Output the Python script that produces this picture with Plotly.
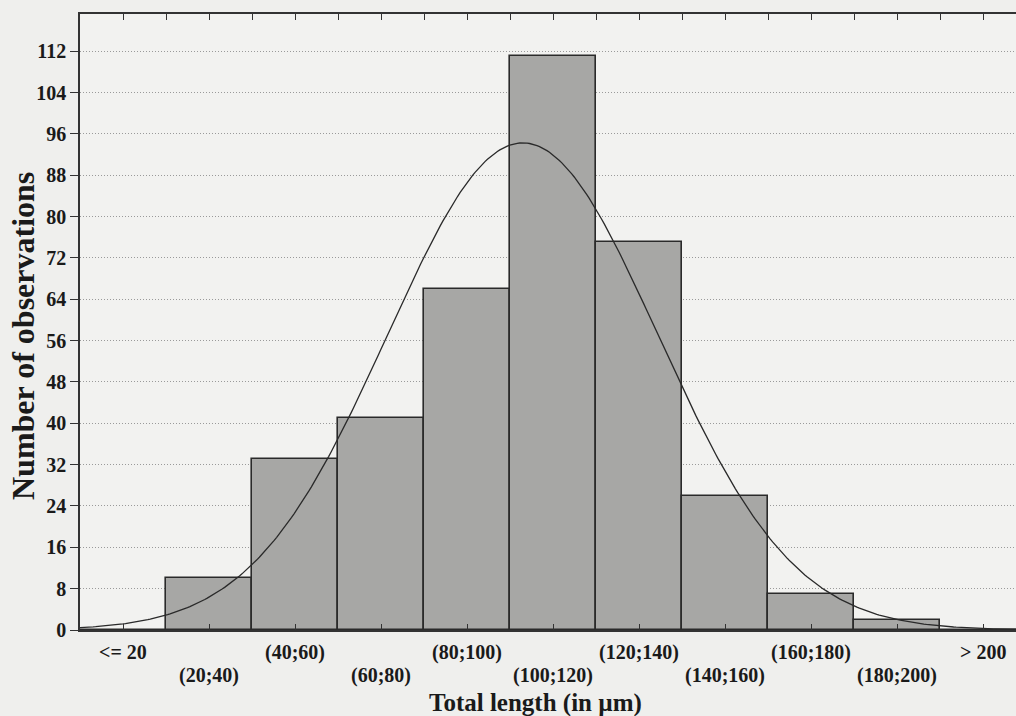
import numpy as np
import plotly.graph_objects as go

categories = ["<= 20", "(20;40)", "(40;60)", "(60;80)", "(80;100)", "(100;120)",
              "(120;140)", "(140;160)", "(160;180)", "(180;200)", "> 200"]
bin_mid = [10, 30, 50, 70, 90, 110, 130, 150, 170, 190, 210]
counts = [0, 10, 33, 41, 66, 111, 75, 26, 7, 2, 0]
y_ticks = list(range(0, 113, 8))

bin_w = 20.0
pos = list(range(len(categories)))

# normal fit from the grouped data
c = np.array(counts, float)
m = np.array(bin_mid, float)
n = c.sum()
mu = (c * m).sum() / n
sd = np.sqrt((c * (m - mu) ** 2).sum() / n)
L = np.linspace(-5, 225, 400)
curve_y = n * bin_w / (sd * np.sqrt(2 * np.pi)) * np.exp(-0.5 * ((L - mu) / sd) ** 2)
curve_x = (L - bin_mid[0]) / bin_w

FONT = "Liberation Serif"
fig = go.Figure()
fig.add_trace(go.Bar(x=pos, y=counts, width=1.0,
                     marker=dict(color="#a7a7a5", line=dict(color="#2a2a2a", width=1.6)),
                     showlegend=False, hoverinfo="skip"))
fig.add_trace(go.Scatter(x=curve_x, y=curve_y, mode="lines",
                         line=dict(color="#2a2a2a", width=1.3), showlegend=False,
                         hoverinfo="skip"))
# invisible trace on the top axis
fig.add_trace(go.Scatter(x=[0], y=[0], xaxis="x2", mode="markers",
                         marker=dict(opacity=0), showlegend=False, hoverinfo="skip"))

fig.update_layout(
    width=1016, height=716,
    margin=dict(l=80, r=0, t=14, b=86),
    paper_bgcolor="#efefed", plot_bgcolor="#f2f2f0",
    bargap=0,
    font=dict(family=FONT, color="#1a1a1a"),
    xaxis=dict(range=[-0.5, 10.38], tickvals=pos, ticktext=[""] * len(pos),
               ticks="inside", ticklen=6, tickcolor="#333", tickwidth=1.2,
               showline=True, linecolor="#333", linewidth=1.6, showgrid=False,
               zeroline=False),
    xaxis2=dict(overlaying="x", side="top", range=[-0.5, 10.38],
                tickvals=[p - 0.5 for p in pos] + [p for p in pos],
                showticklabels=False, ticks="inside", ticklen=6, tickcolor="#333",
                tickwidth=1.2, showline=True, linecolor="#333", linewidth=1.6,
                showgrid=False, zeroline=False),
    yaxis=dict(range=[0, 119.2], tickvals=y_ticks, ticks="outside", ticklen=8,
               tickcolor="#333", tickwidth=1.2,
               tickfont=dict(family=FONT, size=20, color="#1a1a1a", weight="bold"),
               showline=True, linecolor="#333", linewidth=1.6,
               showgrid=True, gridcolor="#9a9a9a", griddash="1px,2px", gridwidth=1,
               zeroline=False),
)

ann = []
for i, lab in enumerate(categories):
    ann.append(dict(x=i, y=0, xref="x", yref="paper", text=f"<b>{lab}</b>",
                    showarrow=False, yanchor="middle", xanchor="center",
                    yshift=-22 if i % 2 == 0 else -45,
                    font=dict(family=FONT, size=20, color="#1a1a1a")))
ann.append(dict(x=(535 - 80) / 936, y=0, xref="paper", yref="paper",
                text="<b>Total length (in µm)</b>", showarrow=False,
                yanchor="middle", xanchor="center", yshift=-73,
                font=dict(family=FONT, size=25, color="#1a1a1a")))
ann.append(dict(x=0, y=(630 - 336) / 616, xref="paper", yref="paper",
                text="<b>Number of observations</b>", showarrow=False, textangle=-90,
                yanchor="middle", xanchor="center", xshift=-57,
                font=dict(family=FONT, size=32, color="#1a1a1a")))
fig.update_layout(annotations=ann)

fig.write_html("out.html", config={"displayModeBar": False},
               post_script="document.body.style.margin='0';document.body.style.overflow='hidden';document.body.style.background='#efefed';")
